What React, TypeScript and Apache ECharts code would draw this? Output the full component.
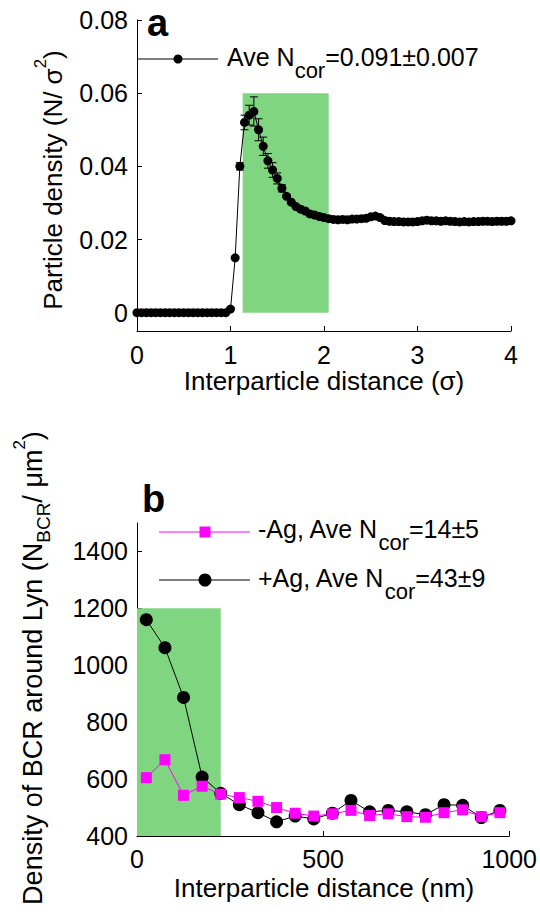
import React, { useEffect, useRef } from "react";
import * as echarts from "echarts";

// ---------- Panel a data ----------
const xA = [
  0, 0.05, 0.1, 0.15, 0.2, 0.25, 0.3, 0.35, 0.4, 0.45, 0.5, 0.55, 0.6, 0.65, 0.7, 0.75, 0.8, 0.85, 0.9, 0.95,
  1.0, 1.05, 1.1, 1.15, 1.2, 1.25, 1.3, 1.35, 1.4, 1.45, 1.5, 1.55, 1.6, 1.65, 1.7, 1.75, 1.8, 1.85, 1.9, 1.95,
  2.0, 2.05, 2.1, 2.15, 2.2, 2.25, 2.3, 2.35, 2.4, 2.45, 2.5, 2.55, 2.6, 2.65, 2.7, 2.75, 2.8, 2.85, 2.9, 2.95,
  3.0, 3.05, 3.1, 3.15, 3.2, 3.25, 3.3, 3.35, 3.4, 3.45, 3.5, 3.55, 3.6, 3.65, 3.7, 3.75, 3.8, 3.85, 3.9, 3.95,
  4.0,
];
const yA = [
  0, 0, 0, 0, 0, 0, 0, 0, 0, 0, 0, 0, 0, 0, 0, 0, 0, 0, 0, 0,
  0.001, 0.015, 0.04, 0.052, 0.054, 0.055, 0.05, 0.0455, 0.0415, 0.039, 0.0367, 0.034, 0.0318, 0.0302, 0.029, 0.0283, 0.0278, 0.027, 0.0267, 0.0263,
  0.026, 0.0257, 0.0255, 0.0254, 0.0255, 0.0254, 0.0256, 0.0256, 0.0257, 0.0258, 0.0262, 0.0264, 0.026, 0.0252, 0.025, 0.0249, 0.0249, 0.0248, 0.0248, 0.0248,
  0.0249, 0.0251, 0.0253, 0.0251, 0.0251, 0.025, 0.0251, 0.025, 0.0249, 0.0248, 0.0249, 0.0248, 0.0249, 0.0249, 0.025, 0.025, 0.0249, 0.025, 0.025, 0.025,
  0.0251,
];
const errXA = [1.1, 1.15, 1.2, 1.25, 1.3, 1.35, 1.4, 1.45, 1.5, 1.55];
const errSizeA = [0.001, 0.002, 0.0027, 0.004, 0.003, 0.0025, 0.002, 0.002, 0.0015, 0.001];
const greenXA = [1.13, 2.05];
const greenYA = [0, 0.06];
const yTicksA = [0, 0.02, 0.04, 0.06, 0.08];
const yTickLabelsA = ["0", "0.02", "0.04", "0.06", "0.08"];
const xTicksA = [0, 1, 2, 3, 4];

// ---------- Panel b data ----------
const xB = [25, 75, 125, 175, 225, 275, 325, 375, 425, 475, 525, 575, 625, 675, 725, 775, 825, 875, 925, 975];
const plusAg = [1160, 1062, 887, 607, 550, 510, 482, 450, 470, 460, 480, 525, 485, 490, 485, 475, 510, 508, 465, 490];
const minusAg = [605, 668, 543, 575, 547, 535, 522, 500, 480, 470, 478, 490, 472, 478, 468, 466, 482, 492, 468, 482];
const greenXB = [0, 225];
const greenYB = [400, 1200];
const yTicksB = [400, 600, 800, 1000, 1200, 1400];
const xTicksB = [0, 500, 1000];

const FONT = "'Liberation Sans', Arial, Helvetica, sans-serif";
const GREEN = "#80d680";
const MAGENTA = "#ff00ff";

export default function App() {
  const ref = useRef<HTMLDivElement>(null);

  useEffect(() => {
    document.body.style.margin = "0";
    if (!ref.current) return;
    const chart = echarts.init(ref.current, null, { renderer: "svg" });

    const plain = (v: number) => String(v);
    const axisCommon = {
      axisLine: { onZero: false, lineStyle: { color: "#000", width: 1 } },
      axisTick: { inside: true, length: 5, lineStyle: { color: "#000" } },
      splitLine: { show: false },
      axisLabel: { color: "#000", fontSize: 25, fontFamily: FONT, formatter: plain },
    };

    const errData = errXA.map((x, i) => {
      const y = yA[xA.indexOf(x)];
      return [x, y - errSizeA[i], y + errSizeA[i]];
    });

    const m = { fontSize: 25, lineHeight: 25, verticalAlign: "top", fontFamily: FONT, color: "#000" };
    const sub = { fontSize: 22, lineHeight: 22, verticalAlign: "top", padding: [15, 0, 0, 0], fontFamily: FONT, color: "#000" };
    const tm = { fontSize: 26, lineHeight: 26, verticalAlign: "top", padding: [8, 0, 0, 0], fontFamily: FONT, color: "#000" };
    const tmB = { fontSize: 27, lineHeight: 27, verticalAlign: "top", padding: [8, 0, 0, 0], fontFamily: FONT, color: "#000" };
    const tsup = { fontSize: 17, lineHeight: 17, verticalAlign: "top", fontFamily: FONT, color: "#000" };
    const tsub = { fontSize: 19, lineHeight: 19, verticalAlign: "top", padding: [23, 0, 0, 0], fontFamily: FONT, color: "#000" };

    const option: any = {
      animation: false,
      backgroundColor: "#fff",
      grid: [
        { left: 137, right: 29, top: 20, bottom: 587, containLabel: false },
        { left: 137, right: 29, top: 523, bottom: 82, containLabel: false },
      ],
      xAxis: [
        {
          ...axisCommon,
          gridIndex: 0,
          type: "value",
          min: 0,
          max: 4,
          interval: 1,
          axisLabel: { ...axisCommon.axisLabel, margin: 11, customValues: xTicksA },
          axisTick: { ...axisCommon.axisTick, customValues: xTicksA },
        },
        {
          ...axisCommon,
          gridIndex: 1,
          type: "value",
          min: 0,
          max: 1000,
          interval: 500,
          axisLabel: { ...axisCommon.axisLabel, margin: 10, customValues: xTicksB },
          axisTick: { ...axisCommon.axisTick, customValues: xTicksB },
        },
      ],
      yAxis: [
        {
          ...axisCommon,
          gridIndex: 0,
          type: "value",
          min: -0.005,
          max: 0.08,
          axisLabel: {
            ...axisCommon.axisLabel,
            margin: 9,
            customValues: yTicksA,
            formatter: (v: number) => {
              const i = yTicksA.findIndex((t) => Math.abs(t - v) < 1e-9);
              return i >= 0 ? yTickLabelsA[i] : "";
            },
          },
          axisTick: { ...axisCommon.axisTick, customValues: yTicksA },
        },
        {
          ...axisCommon,
          gridIndex: 1,
          type: "value",
          min: 400,
          max: 1500,
          axisLabel: { ...axisCommon.axisLabel, margin: 9, customValues: yTicksB },
          axisTick: { ...axisCommon.axisTick, customValues: yTicksB },
        },
      ],
      series: [
        {
          type: "line",
          xAxisIndex: 0,
          yAxisIndex: 0,
          data: xA.map((x, i) => [x, yA[i]]),
          symbol: "circle",
          symbolSize: 9,
          lineStyle: { color: "#000", width: 1 },
          itemStyle: { color: "#000" },
          z: 3,
          markArea: {
            silent: true,
            itemStyle: { color: GREEN, opacity: 1 },
            data: [[{ coord: [greenXA[0], greenYA[0]] }, { coord: [greenXA[1], greenYA[1]] }]],
          },
        },
        {
          type: "custom",
          xAxisIndex: 0,
          yAxisIndex: 0,
          z: 4,
          data: errData,
          encode: { x: 0, y: [1, 2] },
          renderItem: (_params: any, api: any) => {
            const x = api.value(0);
            const p1 = api.coord([x, api.value(1)]);
            const p2 = api.coord([x, api.value(2)]);
            const w = 4;
            const st = { stroke: "#000", lineWidth: 1 };
            return {
              type: "group",
              children: [
                { type: "line", shape: { x1: p1[0], y1: p1[1], x2: p2[0], y2: p2[1] }, style: st },
                { type: "line", shape: { x1: p1[0] - w, y1: p1[1], x2: p1[0] + w, y2: p1[1] }, style: st },
                { type: "line", shape: { x1: p2[0] - w, y1: p2[1], x2: p2[0] + w, y2: p2[1] }, style: st },
              ],
            };
          },
        },
        {
          type: "line",
          name: "+Ag",
          xAxisIndex: 1,
          yAxisIndex: 1,
          data: xB.map((x, i) => [x, plusAg[i]]),
          symbol: "circle",
          symbolSize: 13,
          lineStyle: { color: "#000", width: 1 },
          itemStyle: { color: "#000" },
          z: 3,
          markArea: {
            silent: true,
            itemStyle: { color: GREEN, opacity: 1 },
            data: [[{ coord: [greenXB[0], greenYB[0]] }, { coord: [greenXB[1], greenYB[1]] }]],
          },
        },
        {
          type: "line",
          name: "-Ag",
          xAxisIndex: 1,
          yAxisIndex: 1,
          data: xB.map((x, i) => [x, minusAg[i]]),
          symbol: "rect",
          symbolSize: 11,
          lineStyle: { color: MAGENTA, width: 1 },
          itemStyle: { color: MAGENTA },
          z: 4,
        },
      ],
      graphic: [
        // panel labels
        { type: "text", x: 147, y: 23, style: { text: "a", fontSize: 38, fontWeight: "bold", fontFamily: FONT, fill: "#000", align: "left", verticalAlign: "middle" } },
        { type: "text", x: 142, y: 499, style: { text: "b", fontSize: 38, fontWeight: "bold", fontFamily: FONT, fill: "#000", align: "left", verticalAlign: "middle" } },
        // legend a
        { type: "line", shape: { x1: 138, y1: 59, x2: 218, y2: 59 }, style: { stroke: "#000", lineWidth: 1 } },
        { type: "circle", shape: { cx: 178, cy: 59, r: 4.5 }, style: { fill: "#000" } },
        {
          type: "text",
          x: 227,
          y: 44,
          style: { text: "{m|Ave N}{s|cor}{m|=0.091\u00B10.007}", rich: { m, s: sub }, align: "left", verticalAlign: "top" },
        },
        // legend b
        { type: "line", shape: { x1: 159, y1: 532, x2: 250, y2: 532 }, style: { stroke: MAGENTA, lineWidth: 1 } },
        { type: "rect", shape: { x: 199.5, y: 526.5, width: 11, height: 11 }, style: { fill: MAGENTA } },
        {
          type: "text",
          x: 258,
          y: 516,
          style: { text: "{m|-Ag, Ave N}{s|cor}{m|=14\u00B15}", rich: { m, s: sub }, align: "left", verticalAlign: "top" },
        },
        { type: "line", shape: { x1: 159, y1: 580, x2: 250, y2: 580 }, style: { stroke: "#000", lineWidth: 1 } },
        { type: "circle", shape: { cx: 205, cy: 580, r: 6.5 }, style: { fill: "#000" } },
        {
          type: "text",
          x: 258,
          y: 565,
          style: { text: "{m|+Ag, Ave N}{s|cor}{m|=43\u00B19}", rich: { m, s: sub }, align: "left", verticalAlign: "top" },
        },
        // axis titles
        {
          type: "text",
          x: 324,
          y: 381,
          style: { text: "Interparticle distance (\u03C3)", fontSize: 26, fontFamily: FONT, fill: "#000", align: "center", verticalAlign: "middle" },
        },
        {
          type: "text",
          x: 324,
          y: 888,
          style: { text: "Interparticle distance (nm)", fontSize: 26, fontFamily: FONT, fill: "#000", align: "center", verticalAlign: "middle" },
        },
        {
          type: "text",
          x: 32,
          y: 180,
          rotation: Math.PI / 2,
          style: {
            text: "{m|Particle density (N/ \u03C3}{p|2}{m|)}",
            rich: { m: tm, p: tsup },
            align: "center",
            verticalAlign: "top",
          },
        },
        {
          type: "text",
          x: 11,
          y: 668,
          rotation: Math.PI / 2,
          style: {
            text: "{m|Density of BCR around Lyn (N}{b|BCR}{m|/ \u03BCm}{p|2}{m|)}",
            rich: { m: tmB, p: tsup, b: tsub },
            align: "center",
            verticalAlign: "top",
          },
        },
      ],
    };

    chart.setOption(option);
    return () => chart.dispose();
  }, []);

  return <div ref={ref} style={{ width: 540, height: 918 }} />;
}
